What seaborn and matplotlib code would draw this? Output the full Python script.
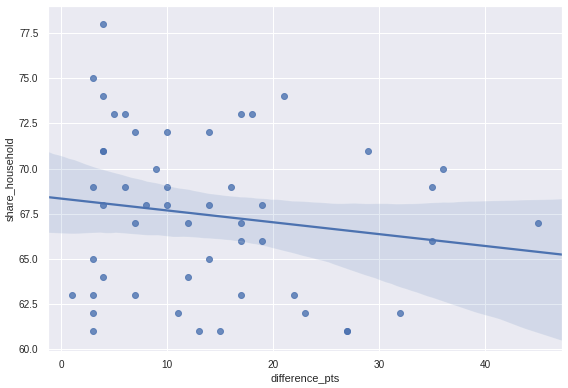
import matplotlib
matplotlib.use("Agg")
import matplotlib.pyplot as plt
import seaborn as sns
import pandas as pd
import numpy as np

difference_pts = [4, 3, 4, 5, 6, 7, 10, 14, 4, 4, 9,
                  3, 6, 10, 16, 4, 8, 10, 14, 19,
                  7, 12, 17, 17, 19, 3, 14, 4, 12,
                  1, 3, 7, 17, 3, 11, 3, 13, 15,
                  17, 18, 21, 29, 36, 35, 45, 35,
                  22, 23, 27, 27, 32]
share_household = [78, 75, 74, 73, 73, 72, 72, 72, 71, 71, 70,
                   69, 69, 69, 69, 68, 68, 68, 68, 68,
                   67, 67, 67, 66, 66, 65, 65, 64, 64,
                   63, 63, 63, 63, 62, 62, 61, 61, 61,
                   73, 73, 74, 71, 70, 69, 67, 66,
                   63, 62, 61, 61, 62]

df = pd.DataFrame({"difference_pts": difference_pts,
                   "share_household": share_household})

sns.set_theme(style="darkgrid")
plt.rcParams["font.family"] = ["Liberation Sans", "DejaVu Sans"]
plt.rcParams["xtick.labelsize"] = 10
plt.rcParams["ytick.labelsize"] = 10
plt.rcParams["axes.labelsize"] = 11

fig = plt.figure(figsize=(568 / 72, 388 / 72), dpi=72)
ax = fig.add_axes([48 / 568, 1 - 351 / 388, (562 - 48) / 568, (351 - 6) / 388])
ax.set_xlim(-1.23, 47.26)
ax.set_autoscalex_on(False)
sns.regplot(data=df, x="difference_pts", y="share_household", ax=ax,
            truncate=False, seed=3)
ax.set_xlim(-1.23, 47.26)
ax.set_ylim(59.9, 79.0)
fig.savefig("out.png", dpi=72)
